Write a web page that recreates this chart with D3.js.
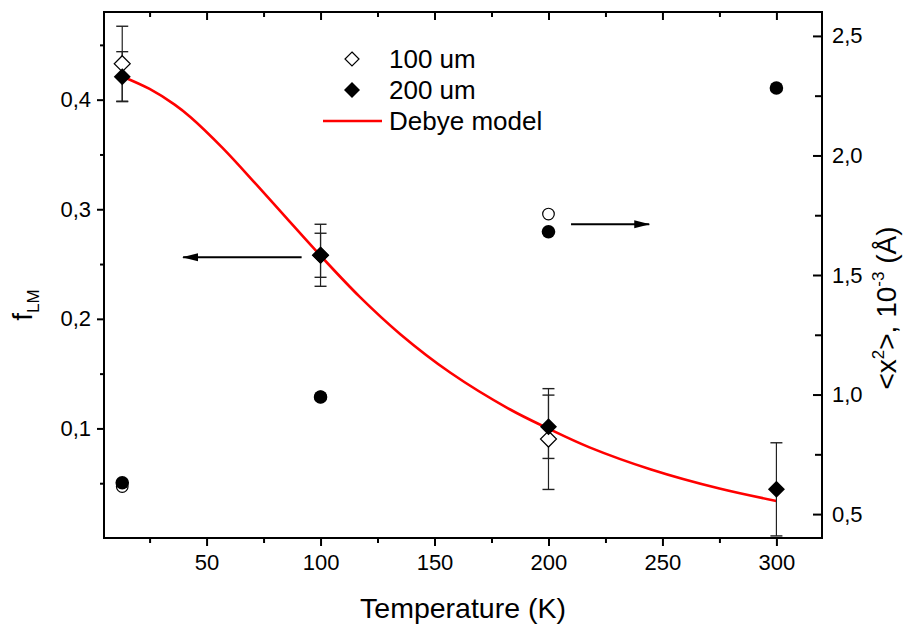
<!DOCTYPE html>
<html>
<head>
<meta charset="utf-8">
<script src="https://cdn.jsdelivr.net/npm/d3@7"></script>
<style>
  html, body { margin: 0; padding: 0; background: #fff; }
  svg { display: block; }
  text { font-family: "Liberation Sans", Arial, sans-serif; fill: #000; }
</style>
</head>
<body>
<svg id="chart" width="910" height="626"></svg>
<script>
// ---------- data ----------
const temps = [13, 100, 200, 300];
// f_LM (left axis), 100 um (open diamonds)
const fLM100 = [0.4328, 0.2580, 0.0903, null];
const fLM100Err = [0.0342, 0.0283, 0.0460, null];
// f_LM (left axis), 200 um (filled diamonds)
const fLM200 = [0.4210, 0.2580, 0.1015, 0.0444];
const fLM200Err = [0.0228, 0.0201, 0.0289, 0.0425];
// <x^2> (right axis), open circles (100 um) and filled circles (200 um)
const x2_100 = [0.615, 0.990, 1.755, null];
const x2_200 = [0.631, 0.990, 1.681, 2.282];
// Debye model curve
const debyeT = [13, 25, 36, 43, 57, 72, 85, 100, 117, 135, 157, 183, 200, 218, 245, 275, 300];
const debyeF = [0.4212, 0.4098, 0.3955, 0.3840, 0.3560, 0.3222, 0.2921, 0.2576, 0.2205, 0.1860,
                0.1508, 0.1175, 0.0998, 0.0827, 0.0625, 0.0451, 0.0338];
// axis ticks
const xMajor = [50, 100, 150, 200, 250, 300];
const xMinor = [25, 75, 125, 175, 225, 275];
const yLMajor = [0.1, 0.2, 0.3, 0.4];
const yLMinor = [0.05, 0.15, 0.25, 0.35, 0.45];
const yRMajor = [0.5, 1.0, 1.5, 2.0, 2.5];
const yRMinor = [0.75, 1.25, 1.75, 2.25];
// arrow annotations: [T start, T end, value] (left arrow on f axis, right arrow on <x2> axis)
const arrowLeft = [91.7, 39.7, 0.2562];
const arrowRight = [209.9, 244.2, 1.712];
// legend labels
const legendLabels = ["100 um", "200 um", "Debye model"];

// ---------- layout ----------
const L = 104, R = 822, T = 12, B = 538;
const svg = d3.select("#chart");

const x = d3.scaleLinear().domain([5, 320]).range([L, R]);
const yL = d3.scaleLinear().domain([0, 0.48]).range([B, T]);
const yR = d3.scaleLinear().domain([0.4, 2.6]).range([B, T]);
const comma = d => d3.format(".1f")(d).replace(".", ",");

const defs = svg.append("defs");
defs.append("clipPath").attr("id", "clip")
  .append("rect").attr("x", L).attr("y", T).attr("width", R - L).attr("height", B - T);
defs.append("marker").attr("id", "arrow").attr("viewBox", "0 0 16 10")
  .attr("refX", 15).attr("refY", 5).attr("markerWidth", 16).attr("markerHeight", 10)
  .attr("markerUnits", "userSpaceOnUse").attr("orient", "auto")
  .append("path").attr("d", "M0,1 L16,5 L0,9 Z").attr("fill", "#000");

function styleAxis(g) {
  g.select(".domain").remove();
  g.selectAll(".tick line").attr("stroke", "#000").attr("stroke-width", 2);
  g.selectAll(".tick text").attr("font-size", 22).attr("fill", "#000")
    .style("font-family", "'Liberation Sans', Arial, sans-serif");
}

// bottom axis
svg.append("g").attr("transform", `translate(0,${B})`)
  .call(d3.axisBottom(x).tickValues(xMajor).tickSize(8).tickPadding(8).tickFormat(d3.format("d")))
  .call(styleAxis);
svg.append("g").attr("transform", `translate(0,${B})`)
  .call(d3.axisBottom(x).tickValues(xMinor).tickSize(5).tickFormat(""))
  .call(styleAxis);
// top axis (inward ticks)
svg.append("g").attr("transform", `translate(0,${T})`)
  .call(d3.axisTop(x).tickValues(xMajor).tickSize(-8).tickFormat(""))
  .call(styleAxis);
svg.append("g").attr("transform", `translate(0,${T})`)
  .call(d3.axisTop(x).tickValues(xMinor).tickSize(-5).tickFormat(""))
  .call(styleAxis);
// left axis
svg.append("g").attr("transform", `translate(${L},0)`)
  .call(d3.axisLeft(yL).tickValues(yLMajor).tickSize(7).tickPadding(6).tickFormat(comma))
  .call(styleAxis);
svg.append("g").attr("transform", `translate(${L},0)`)
  .call(d3.axisLeft(yL).tickValues(yLMinor).tickSize(4).tickFormat(""))
  .call(styleAxis);
// right axis (inward ticks, outside labels)
svg.append("g").attr("transform", `translate(${R},0)`)
  .call(d3.axisRight(yR).tickValues(yRMajor).tickSize(-9).tickPadding(10).tickFormat(comma))
  .call(styleAxis);
svg.append("g").attr("transform", `translate(${R},0)`)
  .call(d3.axisRight(yR).tickValues(yRMinor).tickSize(-7).tickFormat(""))
  .call(styleAxis);

// frame
svg.append("rect").attr("x", L).attr("y", T).attr("width", R - L).attr("height", B - T)
  .attr("fill", "none").attr("stroke", "#000").attr("stroke-width", 2);

const plot = svg.append("g").attr("clip-path", "url(#clip)");

// Debye model curve
const curvePts = debyeT.map((t, i) => [t, debyeF[i]]);
plot.append("path").datum(curvePts)
  .attr("d", d3.line().x(d => x(d[0])).y(d => yL(d[1])).curve(d3.curveCatmullRom.alpha(0.5)))
  .attr("fill", "none").attr("stroke", "#ff0000").attr("stroke-width", 2.6);

// error bars
function errorBars(vals, errs, color) {
  temps.forEach((t, i) => {
    if (vals[i] == null || errs[i] == null) return;
    const cx = x(t), y1 = yL(vals[i] + errs[i]), y2 = yL(vals[i] - errs[i]);
    plot.append("line").attr("x1", cx).attr("x2", cx).attr("y1", y1).attr("y2", y2)
      .attr("stroke", color).attr("stroke-width", 1.2);
    [y1, y2].forEach(yy => plot.append("line").attr("x1", cx - 6).attr("x2", cx + 6)
      .attr("y1", yy).attr("y2", yy).attr("stroke", color).attr("stroke-width", 1.4));
  });
}
errorBars(fLM100, fLM100Err, "#222");
errorBars(fLM200, fLM200Err, "#222");

const diamond = (cx, cy, r) => `M${cx},${cy - r} L${cx + r},${cy} L${cx},${cy + r} L${cx - r},${cy} Z`;

// circles (right axis)
temps.forEach((t, i) => {
  if (x2_100[i] != null) plot.append("circle").attr("cx", x(t)).attr("cy", yR(x2_100[i])).attr("r", 5.8)
    .attr("fill", "#fff").attr("stroke", "#000").attr("stroke-width", 1.2);
});
temps.forEach((t, i) => {
  if (x2_200[i] != null) plot.append("circle").attr("cx", x(t)).attr("cy", yR(x2_200[i])).attr("r", 6.8)
    .attr("fill", "#000");
});

// diamonds (left axis)
temps.forEach((t, i) => {
  if (fLM100[i] != null) plot.append("path").attr("d", diamond(x(t), yL(fLM100[i]), 8))
    .attr("fill", "#fff").attr("stroke", "#000").attr("stroke-width", 1.2);
});
temps.forEach((t, i) => {
  if (fLM200[i] != null) plot.append("path").attr("d", diamond(x(t), yL(fLM200[i]), 8.5))
    .attr("fill", "#000");
});

// arrows
svg.append("line").attr("x1", x(arrowLeft[0])).attr("x2", x(arrowLeft[1]))
  .attr("y1", yL(arrowLeft[2])).attr("y2", yL(arrowLeft[2]))
  .attr("stroke", "#000").attr("stroke-width", 2).attr("marker-end", "url(#arrow)");
svg.append("line").attr("x1", x(arrowRight[0])).attr("x2", x(arrowRight[1]))
  .attr("y1", yR(arrowRight[2])).attr("y2", yR(arrowRight[2]))
  .attr("stroke", "#000").attr("stroke-width", 2).attr("marker-end", "url(#arrow)");

// legend
const lg = svg.append("g");
const lgX = 352, lgTextX = 389, lgY = [59, 90, 121];
lg.append("path").attr("d", diamond(lgX, lgY[0], 7)).attr("fill", "#fff").attr("stroke", "#000").attr("stroke-width", 1.2);
lg.append("path").attr("d", diamond(lgX, lgY[1], 8)).attr("fill", "#000");
lg.append("line").attr("x1", 323).attr("x2", 382).attr("y1", lgY[2]).attr("y2", lgY[2])
  .attr("stroke", "#ff0000").attr("stroke-width", 2.6);
legendLabels.forEach((s, i) => lg.append("text").attr("x", lgTextX).attr("y", lgY[i])
  .attr("dy", "0.35em").attr("font-size", 26).text(s));

// axis titles
svg.append("text").attr("x", (L + R) / 2).attr("y", 618).attr("text-anchor", "middle")
  .attr("font-size", 28.5).text("Temperature (K)");

const lt = svg.append("text").attr("transform", "translate(32,305) rotate(-90)")
  .attr("text-anchor", "middle").attr("font-size", 28);
lt.append("tspan").text("f");
lt.append("tspan").attr("font-size", 17).attr("dy", 7).text("LM");

const rt = svg.append("text").attr("transform", "translate(896,308) rotate(-90)")
  .attr("text-anchor", "middle").attr("font-size", 28);
rt.append("tspan").text("<x");
rt.append("tspan").attr("font-size", 17).attr("dy", -12).text("2");
rt.append("tspan").attr("dy", 12).text(">, 10");
rt.append("tspan").attr("font-size", 17).attr("dy", -12).text("-3");
rt.append("tspan").attr("dy", 12).text(" (Å)");
</script>
</body>
</html>
